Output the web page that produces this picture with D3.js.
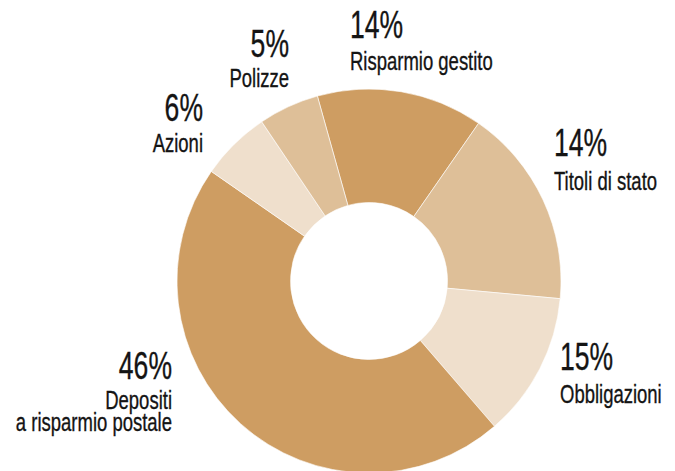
<html>
    <head>
        <meta charset='UTF-8'>
        <script src="https://d3js.org/d3.v7.min.js"></script>
        <style>
            body { margin: 0; background: #fff; }
            text { font-family: 'Liberation Sans', Arial, sans-serif; fill: #141414; stroke: #141414; stroke-width: 0.35px; }
        </style>
    </head>
    <body>
        <svg id="chart" width="675" height="471"></svg>

        <script>
            // data
            const categories = ['Risparmio gestito', 'Titoli di stato', 'Obbligazioni', 'Depositi a risparmio postale', 'Azioni', 'Polizze'];
            const nameLines = [['Risparmio gestito'], ['Titoli di stato'], ['Obbligazioni'], ['Depositi', 'a risparmio postale'], ['Azioni'], ['Polizze']];
            // arc sizes as drawn in the picture (share of the circle)
            const shares = [14, 16.8, 12.2, 46, 5.9, 5.1];
            const percentLabels = ['14%', '14%', '15%', '46%', '6%', '5%'];
            const shades = ['dark', 'medium', 'light', 'dark', 'light', 'medium'];

            const svg = d3.select('#chart');
            const cx = 369, cy = 281;
            const outerR = 192, innerR = 78.5;
            const start = -15.6 * Math.PI / 180;

            const colorScale = d3.scaleOrdinal()
                                 .domain(['dark', 'medium', 'light'])
                                 .range(['#ce9d62', '#debf98', '#efdfcc']);

            const pie = d3.pie().sort(null).value(d => d)
                          .startAngle(start).endAngle(start + 2 * Math.PI);
            const arc = d3.arc().innerRadius(innerR).outerRadius(outerR);

            const donut = svg.append('g').attr('transform', `translate(${cx},${cy})`);
            donut.selectAll('path')
                 .data(pie(shares))
                 .join('path')
                 .attr('d', arc)
                 .attr('fill', (d, i) => colorScale(shades[i]))
                 .attr('stroke', '#fff')
                 .attr('stroke-width', 0.6);

            // where each label sits (anchor side, x, baseline of the percent, baselines of the name lines)
            const placement = [
                {anchor: 'start', x: 350, pct: 38,  names: [70]},
                {anchor: 'start', x: 554, pct: 156, names: [190]},
                {anchor: 'start', x: 560, pct: 370, names: [403]},
                {anchor: 'end',   x: 172, pct: 379, names: [409, 431]},
                {anchor: 'end',   x: 203, pct: 121, names: [152]},
                {anchor: 'end',   x: 289, pct: 57,  names: [87]}
            ];

            // condensed look: squeeze the regular face horizontally
            const labels = svg.append('g').attr('id', 'labels');
            categories.forEach((c, i) => {
                const p = placement[i];
                labels.append('text')
                      .attr('transform', `translate(${p.x},${p.pct}) scale(0.69,1)`)
                      .attr('text-anchor', p.anchor)
                      .style('font-size', '38.5px')
                      .text(percentLabels[i]);
                nameLines[i].forEach((line, j) => {
                    labels.append('text')
                          .attr('transform', `translate(${p.x},${p.names[j]}) scale(0.725,1)`)
                          .attr('text-anchor', p.anchor)
                          .style('font-size', '25.5px')
                          .text(line);
                });
            });
        </script>
    </body>
</html>
